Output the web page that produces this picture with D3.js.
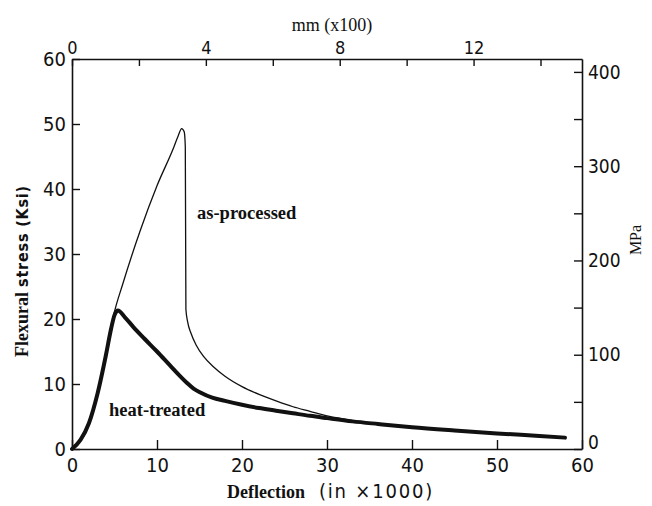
<!DOCTYPE html>
<html>
<head>
<meta charset="utf-8">
<script src="https://cdn.jsdelivr.net/npm/d3@7"></script>
<style>
  body { margin: 0; background: #fff; }
  svg { display: block; }
</style>
</head>
<body>
<script>
// Curves (deflection in in x1000, stress in ksi)
const asProcessedDefl = [0, 1, 2, 3, 4, 4.9, 6, 8, 10, 12, 12.5, 12.9, 13.2, 13.33, 13.4, 13.6, 14.0, 14.6, 15.5, 16.6, 18, 20, 22, 24, 26, 28, 30, 32, 34, 36, 40, 45, 50, 55, 58];
const asProcessedStress = [0, 1.4, 4.0, 8.5, 14.5, 20.6, 25.5, 33.5, 40.5, 46.5, 48.2, 49.3, 48.8, 46.5, 21.5, 19.6, 17.8, 16.0, 14.2, 12.7, 11.2, 9.6, 8.4, 7.4, 6.5, 5.8, 5.1, 4.6, 4.15, 3.85, 3.35, 2.85, 2.4, 2.0, 1.75];

const heatTreatedDefl = [0, 1, 2, 3, 4, 4.6, 5.0, 5.4, 6.2, 7.2, 8.5, 10, 11.5, 12.8, 13.5, 14.3, 15.1, 16.5, 18, 20, 22, 24, 26, 28, 30, 33, 36, 40, 45, 50, 55, 58];
const heatTreatedStress = [0, 1.4, 4.0, 8.5, 14.5, 18.5, 20.6, 21.3, 20.3, 18.8, 17.0, 15.0, 12.9, 11.1, 10.2, 9.3, 8.7, 7.9, 7.4, 6.8, 6.3, 5.9, 5.5, 5.1, 4.75, 4.25, 3.85, 3.35, 2.85, 2.4, 2.0, 1.75];

// Axis ticks
const deflTicks = [0, 10, 20, 30, 40, 50, 60];
const ksiTicks = [0, 10, 20, 30, 40, 50, 60];
const mmTicks = [0, 2, 4, 6, 8, 10, 12, 14];
const mpaTicks = [0, 50, 100, 150, 200, 250, 300, 350, 400];

const width = 652;
const height = 506;
const plot = { left: 72, right: 582, top: 59, bottom: 449 };

const svg = d3
  .select("body")
  .append("svg")
  .attr("width", width)
  .attr("height", height);

const x = d3.scaleLinear().domain([0, 60]).range([plot.left, plot.right]);
const y = d3.scaleLinear().domain([0, 60]).range([plot.bottom, plot.top]);
// secondary axes: 1 mil = 0.254 x 0.1 mm, 1 ksi = 6.895 MPa
const xTop = d3.scaleLinear().domain([0, 60 * 0.254]).range([plot.left, plot.right]);
const yRight = d3.scaleLinear().domain([0, 60 * 6.895]).range([plot.bottom, plot.top]);

const tickFont = "'Liberation Sans Narrow', 'DejaVu Sans Condensed', sans-serif";
const serif = "'Liberation Serif', 'Times New Roman', serif";

function styleAxis(g, size) {
  g.select(".domain").attr("stroke", "#111").attr("stroke-width", 1.6);
  g.selectAll(".tick line").attr("stroke", "#111").attr("stroke-width", 1.4);
  g.selectAll(".tick text")
    .attr("fill", "#111")
    .style("font-family", tickFont)
    .style("font-size", size + "px");
}

// bottom axis
svg
  .append("g")
  .attr("transform", `translate(0, ${plot.bottom})`)
  .call(d3.axisBottom(x).tickValues(deflTicks).tickSize(-9).tickPadding(9).tickSizeOuter(0))
  .call(styleAxis, 20);

// left axis
svg
  .append("g")
  .attr("transform", `translate(${plot.left}, 0)`)
  .call(d3.axisLeft(y).tickValues(ksiTicks).tickSize(-8).tickPadding(6).tickSizeOuter(0))
  .call(styleAxis, 20);

// top axis (mm x100)
svg
  .append("g")
  .attr("transform", `translate(0, ${plot.top})`)
  .call(
    d3
      .axisTop(xTop)
      .tickValues(mmTicks)
      .tickSize(-7)
      .tickPadding(5)
      .tickSizeOuter(0)
      .tickFormat((d) => (d % 4 === 0 ? d : ""))
  )
  .call(styleAxis, 18);

// right axis (MPa)
const rightAxis = svg
  .append("g")
  .attr("transform", `translate(${plot.right}, 0)`)
  .call(
    d3
      .axisRight(yRight)
      .tickValues(mpaTicks)
      .tickSize(-8)
      .tickPadding(6)
      .tickSizeOuter(0)
      .tickFormat((d) => (d % 100 === 0 ? d : ""))
  )
  .call(styleAxis, 19);

// the bottom "0" sits a little high, clear of the "60" below it
rightAxis
  .selectAll(".tick text")
  .filter((d) => d === 0)
  .attr("dy", "-0.05em");

// curves
const line = d3
  .line()
  .x((d) => x(d[0]))
  .y((d) => y(d[1]))
  .curve(d3.curveMonotoneX);

svg
  .append("path")
  .datum(asProcessedDefl.map((d, i) => [d, asProcessedStress[i]]))
  .attr("d", line)
  .attr("fill", "none")
  .attr("stroke", "#111")
  .attr("stroke-width", 1.3);

svg
  .append("path")
  .datum(heatTreatedDefl.map((d, i) => [d, heatTreatedStress[i]]))
  .attr("d", line)
  .attr("fill", "none")
  .attr("stroke", "#111")
  .attr("stroke-width", 4)
  .attr("stroke-linecap", "round")
  .attr("stroke-linejoin", "round");

// curve labels
svg
  .append("text")
  .attr("x", 197)
  .attr("y", 219)
  .attr("fill", "#111")
  .style("font-family", serif)
  .style("font-weight", "bold")
  .style("font-size", "18.5px")
  .text("as-processed");

svg
  .append("text")
  .attr("x", 109)
  .attr("y", 416)
  .attr("fill", "#111")
  .style("font-family", serif)
  .style("font-weight", "bold")
  .style("font-size", "18.5px")
  .text("heat-treated");

// axis titles
const xTitle = svg
  .append("text")
  .attr("x", 227)
  .attr("y", 498)
  .attr("fill", "#111");
xTitle
  .append("tspan")
  .style("font-family", serif)
  .style("font-weight", "bold")
  .style("font-size", "18px")
  .text("Deflection");
xTitle
  .append("tspan")
  .attr("dx", 14)
  .style("font-family", tickFont)
  .style("font-size", "20px")
  .style("letter-spacing", "1.8px")
  .text("(in \u00d71000)");

const yTitle = svg
  .append("text")
  .attr("transform", "translate(28, 271) rotate(-90)")
  .attr("text-anchor", "middle")
  .attr("fill", "#111");
yTitle
  .append("tspan")
  .style("font-family", serif)
  .style("font-weight", "bold")
  .style("font-size", "18px")
  .text("Flexural");
yTitle
  .append("tspan")
  .attr("dx", 5)
  .style("font-family", tickFont)
  .style("font-weight", "bold")
  .style("font-size", "16px")
  .style("letter-spacing", "0.8px")
  .text("stress (Ksi)");

svg
  .append("text")
  .attr("x", 332)
  .attr("y", 31)
  .attr("text-anchor", "middle")
  .attr("fill", "#111")
  .style("font-family", serif)
  .style("font-size", "18px")
  .text("mm (x100)");

svg
  .append("text")
  .attr("transform", "translate(641, 240) rotate(-90)")
  .attr("text-anchor", "middle")
  .attr("fill", "#111")
  .style("font-family", serif)
  .style("font-size", "16px")
  .text("MPa");
</script>
</body>
</html>
